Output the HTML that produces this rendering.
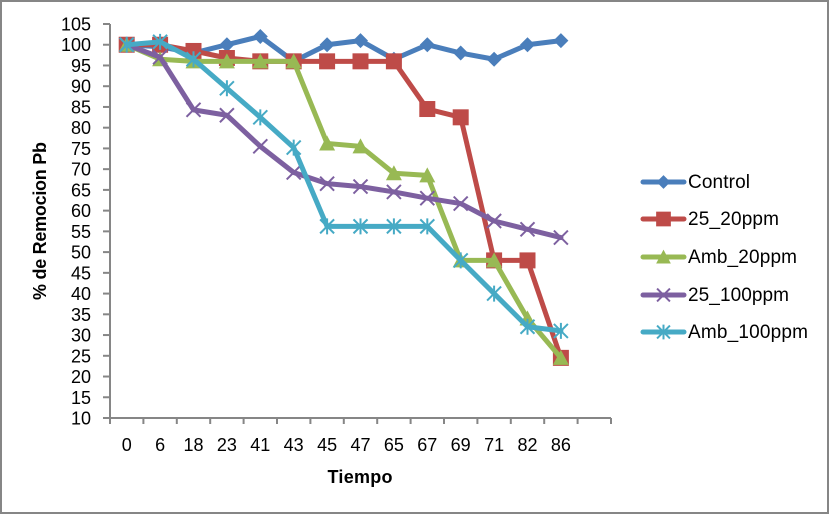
<!DOCTYPE html>
<html>
<head>
<meta charset="utf-8">
<title>% de Remocion Pb</title>
<style>
html,body{margin:0;padding:0;background:#fff;width:830px;height:515px;overflow:hidden}
svg{display:block;font-family:"Liberation Sans",sans-serif}
</style>
</head>
<body>
<svg id="chart" width="830" height="515" viewBox="0 0 830 515" xmlns="http://www.w3.org/2000/svg">
<rect x="1" y="1" width="827" height="512" fill="#fff" stroke="#868686" stroke-width="2"/>
<text transform="translate(46,221) rotate(-90)" text-anchor="middle" font-size="18" font-weight="bold" fill="#000" textLength="158">% de Remocion Pb</text>
<text x="360" y="483" text-anchor="middle" font-size="18" font-weight="bold" fill="#000" textLength="65">Tiempo</text>
</svg>
<script>
const categories = ["0","6","18","23","41","43","45","47","65","67","69","71","82","86"];
const yTicks = [10,15,20,25,30,35,40,45,50,55,60,65,70,75,80,85,90,95,100,105];
const seriesNames = ["Control","25_20ppm","Amb_20ppm","25_100ppm","Amb_100ppm"];
const control = [100,99.5,98,100,102,96,100,101,96.5,100,98,96.5,100,101];
const s25_20ppm = [100,100,98.5,96.8,96,96,96,96,96,84.5,82.5,48,48,24.5];
const amb_20ppm = [100,96.5,96,96,96,96,76.2,75.5,69,68.5,48,48,34,24.5];
const s25_100ppm = [100,97,84.3,83,75.5,69.2,66.5,65.8,64.5,63,61.7,57.5,55.5,53.5];
const amb_100ppm = [100,100.7,96.5,89.5,82.5,75.2,56.2,56.2,56.2,56.2,48,40,32,31];

const svg = document.getElementById('chart');
const NS = 'http://www.w3.org/2000/svg';
const left = 110, right = 611, top_ = 24, bottom = 418;
const slots = categories.length + 1;
const axisGray = '#868686';
const colors = ['#4a7ebb','#be4b48','#98b954','#7d60a0','#46aac5'];
const seriesData = [control, s25_20ppm, amb_20ppm, s25_100ppm, amb_100ppm];

function xScale(i){ return left + (right-left)/slots*(i+0.5); }
function yScale(v){ return bottom - (v-10)/(105-10)*(bottom-top_); }
function make(tag, attrs, parent){
  const e = document.createElementNS(NS, tag);
  for (const k in attrs) e.setAttribute(k, attrs[k]);
  (parent||svg).appendChild(e);
  return e;
}
function drawMarker(g, idx, x, y, c, r){
  const k = r || 1;
  if (idx===0){
    make('polygon',{points:`${x},${y-7.5*k} ${x+7.5*k},${y} ${x},${y+7.5*k} ${x-7.5*k},${y}`,fill:c},g);
  } else if (idx===1){
    make('rect',{x:x-8*k,y:y-8*k,width:16*k,height:16*k,fill:c},g);
  } else if (idx===2){
    make('polygon',{points:`${x},${y-8*k} ${x+8*k},${y+7*k} ${x-8*k},${y+7*k}`,fill:c},g);
  } else if (idx===3){
    make('path',{d:`M${x-7*k},${y-7*k}L${x+7*k},${y+7*k}M${x-7*k},${y+7*k}L${x+7*k},${y-7*k}`,stroke:c,'stroke-width':2,fill:'none'},g);
  } else {
    make('path',{d:`M${x-7*k},${y-7*k}L${x+7*k},${y+7*k}M${x-7*k},${y+7*k}L${x+7*k},${y-7*k}M${x},${y-8*k}L${x},${y+8*k}`,stroke:c,'stroke-width':2,fill:'none'},g);
  }
}

// axes
const yAxis = make('g',{});


make('line',{x1:left,y1:top_,x2:left,y2:bottom,stroke:axisGray,'stroke-width':2},yAxis);
yTicks.forEach(t=>{
  const y = yScale(t);
  make('line',{x1:left-7,y1:y,x2:left,y2:y,stroke:axisGray,'stroke-width':2},yAxis);
  const label = make('text',{x:91,y:y+6.5,'text-anchor':'end','font-size':18,fill:'#000'},yAxis);
  
  
  label.textContent = t;
});
const xAxis = make('g',{});


make('line',{x1:left,y1:bottom,x2:right,y2:bottom,stroke:axisGray,'stroke-width':2},xAxis);
for (let i=0;i<=slots;i++){
  const x = left + (right-left)/slots*i;
  make('line',{x1:x,y1:bottom,x2:x,y2:bottom+6,stroke:axisGray,'stroke-width':2},xAxis);
}
categories.forEach((c,i)=>{
  const label = make('text',{x:xScale(i),y:451,'text-anchor':'middle','font-size':18,fill:'#000'},xAxis);
  
  
  label.textContent = c;
});

// series
seriesData.forEach((vals,idx)=>{
  const g = make('g',{});
  
  
  const pts = vals.map((v,i)=>xScale(i)+','+yScale(v)).join(' ');
  make('polyline',{points:pts,fill:'none',stroke:colors[idx],'stroke-width':5,'stroke-linejoin':'round','stroke-linecap':'round'},g);
  vals.forEach((v,i)=>drawMarker(g,idx,xScale(i),yScale(v),colors[idx]));
});

// legend
const legendY = [182,219,257,295,332];
const legendWidths = [62,91,109,101,120];
seriesNames.forEach((n,idx)=>{
  const g = make('g',{});
  
  
  const y = legendY[idx];
  make('line',{x1:643,y1:y,x2:684,y2:y,stroke:colors[idx],'stroke-width':5,'stroke-linecap':'round'},g);
  drawMarker(g,idx,663.5,y,colors[idx],0.92);
  const t = make('text',{x:688,y:y+6,'font-size':19,fill:'#000',textLength:legendWidths[idx]},g);
  t.textContent = n;
});
</script>
</body>
</html>
